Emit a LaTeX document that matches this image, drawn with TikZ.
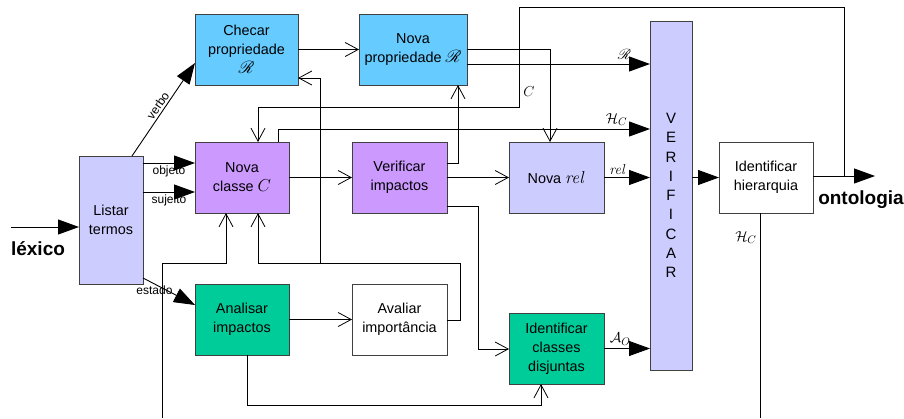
\documentclass[tikz,border=0pt]{standalone}
\usepackage[no-math]{fontspec}
\setmainfont{Liberation Sans}
\usepackage{amsmath,amssymb,mathrsfs}
\usetikzlibrary{arrows.meta}

\definecolor{propblue}{HTML}{66CCFF}
\definecolor{classpurple}{HTML}{CC99FF}
\definecolor{relblue}{HTML}{CCCCFF}
\definecolor{impgreen}{HTML}{00CC99}

\begin{document}
\begin{tikzpicture}[x=1pt, y=-1pt, line width=0.9pt,
    box/.style={draw=black!75, inner sep=0pt, outer sep=0pt, align=center,
      font=\fontsize{14.4}{19}\selectfont},
    fillarrow/.style={-{Triangle[length=21pt,width=15pt]}},
    openarrow/.style={-{Straight Barb[length=13pt,width=14pt,line width=0.8pt]}},
    lbl/.style={font=\fontsize{12}{14}\selectfont, inner sep=2pt},
    mlbl/.style={font=\fontsize{15}{17}\selectfont, inner sep=3pt},
    big/.style={font=\bfseries\fontsize{19}{22}\selectfont}]
    \useasboundingbox (0,0) rectangle (904,418);

    \node[box, fill=relblue, minimum width=64, minimum height=128] (listar) at (111,220) {Listar\\termos};
    \node[box, fill=propblue, minimum width=103, minimum height=71] (checar) at (246.5,49.5) {Checar\\propriedade\\{\fontsize{17}{19}\selectfont$\mathscr{R}$}};
    \node[box, fill=propblue, minimum width=108, minimum height=71] (novaprop) at (413,49.5) {Nova\\propriedade {\fontsize{17}{19}\selectfont$\mathscr{R}$}};
    \node[box, fill=classpurple, minimum width=94, minimum height=71] (novaclasse) at (242,177.5) {Nova\\classe {\fontsize{17}{19}\selectfont$C$}};
    \node[box, fill=classpurple, minimum width=95, minimum height=71] (verificar) at (399.5,177.5) {Verificar\\impactos};
    \node[box, fill=relblue, minimum width=95, minimum height=71] (novarel) at (556.5,177.5) {Nova {\fontsize{16}{19}\selectfont$\mathit{rel}$}};
    \node[box, fill=relblue, minimum width=42, minimum height=349,
      font=\fontsize{15}{19.3}\selectfont] (verif) at (671,195.5) {V\\E\\R\\I\\F\\I\\C\\A\\R};
    \node[box, fill=white, minimum width=94, minimum height=71] (hierarquia) at (766,177.5) {Identificar\\hierarquia};
    \node[box, fill=impgreen, minimum width=94, minimum height=71] (analisar) at (242,319.5) {Analisar\\impactos};
    \node[box, fill=white, minimum width=95, minimum height=71] (avaliar) at (399.5,319.5) {Avaliar\\importância};
    \node[box, fill=impgreen, minimum width=95, minimum height=71] (disjuntas) at (556.5,348.5) {Identificar\\classes\\disjuntas};

    \node[big] (lexico) at (38,249) {léxico};
    \node[big] (ontologia) at (861,200) {ontologia};

    \coordinate (lexin) at (11,227);
    \coordinate (ontout) at (875,176);
    \coordinate (tapC) at (844,176);
    \coordinate (tapR) at (320,263);
    \coordinate (hcout) at (760,418);
    \coordinate (bottomin) at (162,418);

    % entrada e termos
    \draw[fillarrow] (lexin) -- (lexin -| listar.west);
    \draw[fillarrow] (listar.north -| 132,0) -- (checar.west |- 0,63)node[midway, above, sloped, lbl]{verbo};
    \draw[fillarrow] (listar.east |- 0,163) -- (novaclasse.west |- 0,163)node[midway, below, lbl]{objeto};
    \draw[fillarrow] (listar.east |- 0,192) -- (novaclasse.west |- 0,192)node[midway, below, lbl]{sujeito};
    \draw[fillarrow] (listar.east |- 0,278) -- (analisar.west |- 0,305)node[pos=0.22, below, lbl, inner sep=1pt]{estado};

    % propriedades
    \draw[openarrow] (checar) -- (novaprop);
    \draw[fillarrow] (novaprop.east |- 0,64) -- (verif.west |- 0,64)node[pos=0.86, above, mlbl, inner sep=4pt]{$\mathscr{R}$};
    \draw[openarrow] (novaprop.east |- 0,49) -| (novarel.north -| 550,0);

    % classes
    \draw[openarrow] (tapC) |- (519,7) -- (519,107)node[pos=0.85, right, mlbl, inner sep=4pt]{$C$} -| (novaclasse.north -| 258,0);
    \draw[fillarrow] (novaclasse.north -| 278,0) |- (verif.west |- 0,129)node[pos=0.955, above, mlbl]{$\mathcal{H}_C$};
    \draw[openarrow] (novaclasse) -- (verificar);
    \draw[openarrow] (verificar) -- (novarel);
    \draw[openarrow] (verificar.east |- 0,163) -| (novaprop.south -| 458,0);
    \draw[openarrow] (verificar.east |- 0,206) -| (478,349) -- (disjuntas.west |- 0,349);
    \draw[fillarrow] (novarel) -- (verif.west |- novarel)node[pos=0.3, above, mlbl]{$\mathit{rel}$};

    % verificacao e saida
    \draw[fillarrow] (verif.east |- hierarquia) -- (hierarquia);
    \draw[fillarrow] (hierarquia.east |- ontout) -- (ontout);
    \draw (hierarquia.south -| hcout) -- (hcout)node[pos=0.12, left, mlbl]{$\mathcal{H}_C$};

    % impactos
    \draw[openarrow] (avaliar.east |- 0,320) -| (460,263) -| (novaclasse.south -| 258,0);
    \draw[openarrow] (tapR) |- (checar.east |- 0,78);
    \draw[openarrow] (bottomin) |- (226,263) -- (novaclasse.south -| 226,0);
    \draw[openarrow] (analisar) -- (avaliar);
    \draw[openarrow] (analisar.south -| 247,0) |- (541,405) -- (disjuntas.south -| 541,0);
    \draw[fillarrow] (disjuntas) -- (verif.west |- disjuntas)node[pos=0.35, above, mlbl]{$\mathcal{A}_O$};
  \end{tikzpicture}
\end{document}
